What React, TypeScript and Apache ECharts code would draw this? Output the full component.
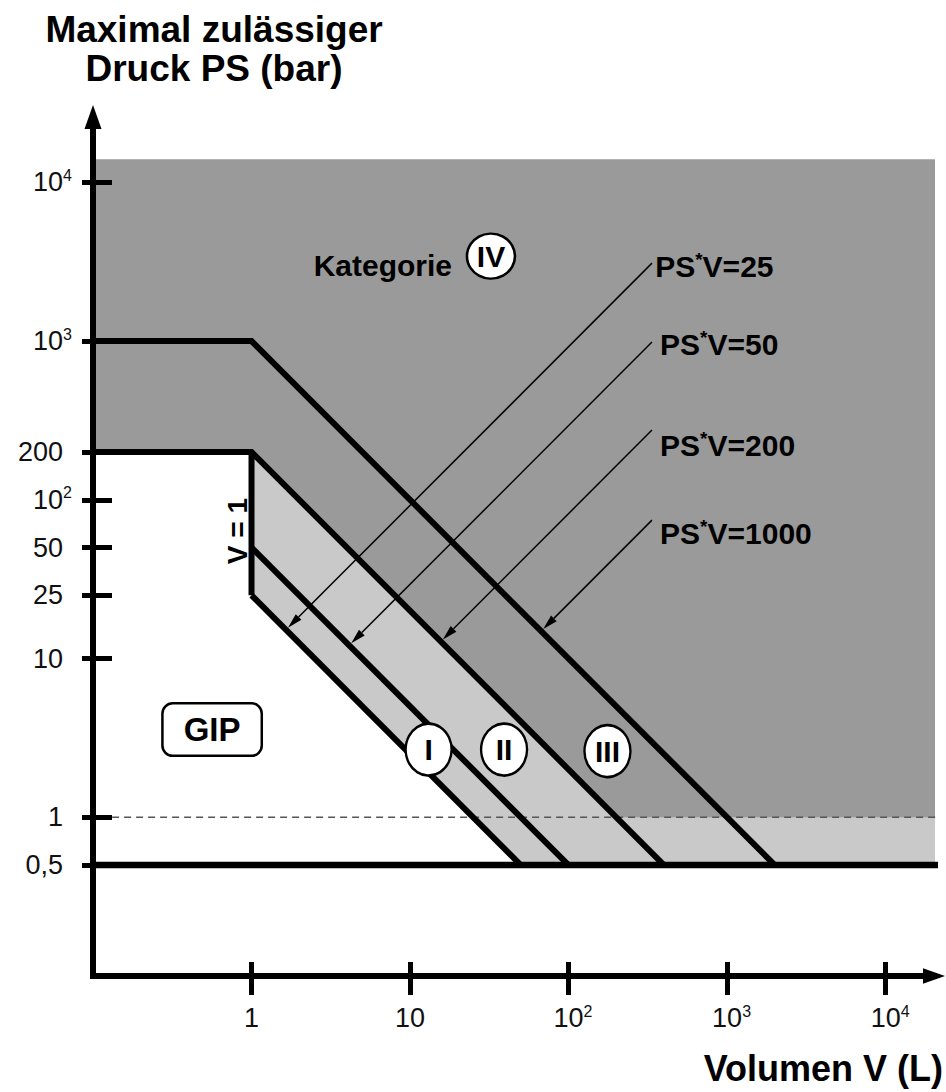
import React, { useEffect, useRef } from 'react';
import * as echarts from 'echarts';

// ---------- data (V in litres, PS in bar) ----------
const V_RANGE = [0.1, 20200];
const PS_RANGE = [0.1, 25800];

const X_TICKS = [1, 10, 100, 1000, 10000];
const X_TICK_LABELS = ['1', '10', '10^2', '10^3', '10^4'];
const Y_TICKS = [0.5, 1, 10, 25, 50, 100, 200, 1000, 10000];
const Y_TICK_LABELS = ['0,5', '1', '10', '25', '50', '10^2', '200', '10^3', '10^4'];

// shaded regions (corner points)
const REGION_DARK = [[0.1, 0.5], [0.1, 14000], [20500, 14000], [20500, 0.5]];
const REGION_LIGHT = [[1, 200], [200, 1], [20500, 1], [20500, 0.5], [50, 0.5], [1, 25]];
const REGION_WHITE = [[0.1, 200], [1, 200], [1, 25], [50, 0.5], [0.1, 0.5]];

// category boundary lines
const LINE_1000 = [[0.1, 1000], [1, 1000], [2000, 0.5]];
const LINE_200 = [[0.1, 200], [1, 200], [400, 0.5]];
const LINE_V1 = [[1, 200], [1, 25]];
const LINE_50 = [[1, 50], [100, 0.5]];
const LINE_25 = [[1, 25], [50, 0.5]];
const LINE_PS_MIN = [[0.1, 0.5], [24000, 0.5]];
const LINE_PS_1 = [[0.132, 1], [21500, 1]];

// PS*V annotations
const PRODUCTS = [25, 50, 200, 1000];
const PRODUCT_LABELS = ['PS*V=25', 'PS*V=50', 'PS*V=200', 'PS*V=1000'];
const LEADER_START = [[336, 3097], [336, 986], [336, 275], [336, 74.5]];
const PRODUCT_LABEL_AT = [[352, 2968], [378, 957], [378, 221], [378, 61.7]];

// category markers
const CATEGORY_NAMES = ['I', 'II', 'III', 'IV'];
const CATEGORY_AT = [[13.1, 2.67], [39.2, 2.67], [176, 2.61], [32.4, 3428]];
const GIP_AT = [0.564, 3.57];
const KATEGORIE_AT = [18.4, 3013];
const V1_TEXT_AT = [0.816, 63.5];

// ---------- helpers ----------
const L = Math.log10;
const toLog = (pts: number[][]) => pts.map(([v, p]) => [L(v), L(p)]);
const FONT = '"Liberation Sans", Arial, Helvetica, sans-serif';

const richLabel = (s: string, plainPad: string) => {
  if (s.includes('^')) {
    const [b, e] = s.split('^');
    return `{bp|${b}}{s|${e}}`;
  }
  return `{${plainPad}|${s}}`;
};

const findLabel = (v: number, ticks: number[], labels: string[]) => {
  for (let i = 0; i < ticks.length; i++) if (Math.abs(L(ticks[i]) - v) < 1e-6) return labels[i];
  return '';
};

const tickStyle = { color: '#000', width: 5 };
const ARROW = 'path://M5,0 L10,14 L0,14 Z';

function buildOption(): any {
  const xMin = L(V_RANGE[0]), xMax = L(V_RANGE[1]);
  const yMin = L(PS_RANGE[0]), yMax = L(PS_RANGE[1]);
  const xTickVals = X_TICKS.map(L);
  const yTickVals = Y_TICKS.map(L);

  const xRich = {
    b: { fontSize: 27, lineHeight: 30, fontFamily: FONT, color: '#111' },
    bp: { fontSize: 27, lineHeight: 30, fontFamily: FONT, color: '#111', padding: [0, 0, 0, 9] },
    s: { fontSize: 16, lineHeight: 16, fontFamily: FONT, color: '#111', verticalAlign: 'top' },
  };
  const yRich = {
    b: { fontSize: 27, lineHeight: 30, fontFamily: FONT, color: '#111', padding: [0, 9, 0, 0] },
    bp: { fontSize: 27, lineHeight: 30, fontFamily: FONT, color: '#111' },
    s: { fontSize: 16, lineHeight: 16, fontFamily: FONT, color: '#111', verticalAlign: 'top' },
  };

  const thick = (data: number[][], name: string) => ({
    type: 'line',
    name,
    data: toLog(data),
    symbol: 'none',
    silent: true,
    clip: false,
    z: 6,
    lineStyle: { color: '#000', width: 6, join: 'miter', cap: 'butt' },
  });

  const regions = [REGION_DARK, REGION_LIGHT, REGION_WHITE];
  const regionColors = ['#9a9a9a', '#c9c9c9', '#ffffff'];

  const leaders = PRODUCTS.map((k, i) => {
    const [v0, p0] = LEADER_START[i];
    const lv = (L(k) - L(p0) + L(v0)) / 2;
    const lp = L(k) - lv;
    return [L(v0), L(p0), lv, lp];
  });

  const textScatter = (name: string, at: number[], label: any) => ({
    type: 'scatter',
    name,
    data: [{ name, value: [L(at[0]), L(at[1])] }],
    symbol: 'circle',
    symbolSize: 0,
    silent: true,
    clip: false,
    z: 9,
    itemStyle: { opacity: 1 },
    label: Object.assign({ show: true, formatter: '{b}', color: '#000', fontFamily: FONT, fontWeight: 'bold', opacity: 1 }, label),
  });

  return {
    animation: false,
    backgroundColor: '#fff',
    title: [
      {
        text: 'Maximal zulässiger\nDruck PS (bar)',
        left: 214,
        top: 10,
        padding: 0,
        textAlign: 'center',
        textStyle: { fontSize: 37, fontWeight: 'bold', lineHeight: 39, fontFamily: FONT, color: '#000' },
      },
      {
        text: 'Volumen V (L)',
        left: 943,
        top: 1048,
        padding: 0,
        textAlign: 'right',
        textStyle: { fontSize: 36, fontWeight: 'bold', lineHeight: 40, fontFamily: FONT, color: '#000' },
      },
    ],
    grid: { left: 93, right: 12, top: 117, bottom: 116, containLabel: false },
    xAxis: [
      {
        type: 'value', min: xMin, max: xMax, position: 'bottom', z: 10,
        axisLine: { show: true, onZero: false, symbol: ['none', ARROW], symbolSize: [17, 22], symbolOffset: [0, 0], lineStyle: { color: '#000', width: 6, cap: 'square' } },
        axisTick: { show: true, inside: false, length: 19, lineStyle: tickStyle, customValues: xTickVals },
        axisLabel: {
          show: true, margin: 27, customValues: xTickVals,
          formatter: (v: number) => richLabel(findLabel(v, X_TICKS, X_TICK_LABELS), 'b'),
          rich: xRich,
        },
        splitLine: { show: false },
      },
      {
        type: 'value', min: xMin, max: xMax, position: 'bottom', z: 10,
        axisLine: { show: false, onZero: false },
        axisTick: { show: true, inside: true, length: 14, lineStyle: tickStyle, customValues: xTickVals },
        axisLabel: { show: false },
        splitLine: { show: false },
      },
    ],
    yAxis: [
      {
        type: 'value', min: yMin, max: yMax, position: 'left', z: 10,
        axisLine: { show: true, onZero: false, symbol: ['none', ARROW], symbolSize: [17, 24], symbolOffset: [0, 0], lineStyle: { color: '#000', width: 6, cap: 'square' } },
        axisTick: { show: true, inside: false, length: 11, lineStyle: tickStyle, customValues: yTickVals },
        axisLabel: {
          show: true, margin: 21, customValues: yTickVals,
          formatter: (v: number) => richLabel(findLabel(v, Y_TICKS, Y_TICK_LABELS), 'b'),
          rich: yRich,
        },
        splitLine: { show: false },
      },
      {
        type: 'value', min: yMin, max: yMax, position: 'left', z: 10,
        axisLine: { show: false, onZero: false },
        axisTick: { show: true, inside: true, length: 19, lineStyle: tickStyle, customValues: yTickVals },
        axisLabel: { show: false },
        splitLine: { show: false },
      },
    ],
    series: [
      {
        type: 'custom',
        name: 'regions',
        silent: true,
        clip: false,
        z: 1,
        data: regions.map((_, i) => [0, 0, i]),
        renderItem: (params: any, api: any) => {
          const idx = params.dataIndex;
          const pts = toLog(regions[idx]).map((p) => api.coord(p));
          return { type: 'polygon', shape: { points: pts }, style: { fill: regionColors[idx] } };
        },
      },
      {
        type: 'line',
        name: 'PS = 1',
        data: toLog(LINE_PS_1),
        symbol: 'none',
        silent: true,
        clip: false,
        z: 3,
        lineStyle: { color: '#555', width: 1.5, type: [7, 5] },
      },
      {
        type: 'custom',
        name: 'leaders',
        silent: true,
        z: 4,
        data: leaders,
        renderItem: (params: any, api: any) => {
          const d = leaders[params.dataIndex];
          const a = api.coord([d[0], d[1]]);
          const b0 = api.coord([d[2], d[3]]);
          const dx = b0[0] - a[0], dy = b0[1] - a[1];
          const len = Math.hypot(dx, dy);
          const ux = dx / len, uy = dy / len;
          const tip = [b0[0] - ux * 3, b0[1] - uy * 3];
          const hl = 15, hw = 4;
          const base = [tip[0] - ux * hl, tip[1] - uy * hl];
          const left = [base[0] - uy * hw, base[1] + ux * hw];
          const right = [base[0] + uy * hw, base[1] - ux * hw];
          return {
            type: 'group',
            children: [
              { type: 'line', shape: { x1: a[0], y1: a[1], x2: base[0], y2: base[1] }, style: { stroke: '#000', lineWidth: 1.5 } },
              { type: 'polygon', shape: { points: [tip, left, right] }, style: { fill: '#000' } },
            ],
          };
        },
      },
      thick(LINE_1000, 'PS*V=1000'),
      thick(LINE_200, 'PS*V=200'),
      thick(LINE_V1, 'V=1'),
      thick(LINE_50, 'PS*V=50'),
      thick(LINE_25, 'PS*V=25'),
      Object.assign(thick(LINE_PS_MIN, 'PS=0,5'), { lineStyle: { color: '#000', width: 6.5, cap: 'butt' } }),
      {
        type: 'scatter',
        name: 'categories',
        silent: true,
        z: 8,
        symbol: 'circle',
        data: CATEGORY_NAMES.map((n, i) => ({
          name: n,
          value: [L(CATEGORY_AT[i][0]), L(CATEGORY_AT[i][1])],
          symbolSize: i < 3 ? [46, 52] : [48, 45],
        })),
        itemStyle: { color: '#fff', borderColor: '#000', borderWidth: 2.5, opacity: 1 },
        label: { show: true, position: 'inside', formatter: '{b}', fontSize: 30, fontWeight: 'bold', color: '#000', fontFamily: FONT, opacity: 1 },
      },
      ...PRODUCT_LABELS.map((t, i) =>
        textScatter(t, PRODUCT_LABEL_AT[i], {
          position: 'right', distance: 0,
          formatter: () => `{a|${t.split('*')[0]}}{s|*}{a|${t.split('*')[1]}}`,
          rich: {
            a: { fontSize: 30, fontWeight: 'bold', fontFamily: FONT, color: '#000', lineHeight: 32 },
            s: { fontSize: 19, fontWeight: 'bold', fontFamily: FONT, color: '#000', lineHeight: 19, verticalAlign: 'top' },
          },
        })
      ),
      textScatter('GIP', GIP_AT, {
        position: 'inside', fontSize: 33, lineHeight: 34, backgroundColor: '#fff', borderColor: '#000', borderWidth: 2.5, borderRadius: 9, padding: [8, 20, 8, 20],
      }),
      textScatter('Kategorie', KATEGORIE_AT, { position: 'left', distance: 0, fontSize: 30 }),
      textScatter('V = 1', V1_TEXT_AT, { position: 'inside', fontSize: 28, rotate: 90 }),
    ],
  };
}

export default function App() {
  const ref = useRef<HTMLDivElement>(null);
  useEffect(() => {
    if (!ref.current) return;
    const chart = echarts.init(ref.current, null, { renderer: 'svg' });
    chart.setOption(buildOption());
    return () => chart.dispose();
  }, []);
  return (
    <div
      ref={ref}
      style={{ position: 'absolute', left: 0, top: 0, width: 946, height: 1092, background: '#fff' }}
    />
  );
}
